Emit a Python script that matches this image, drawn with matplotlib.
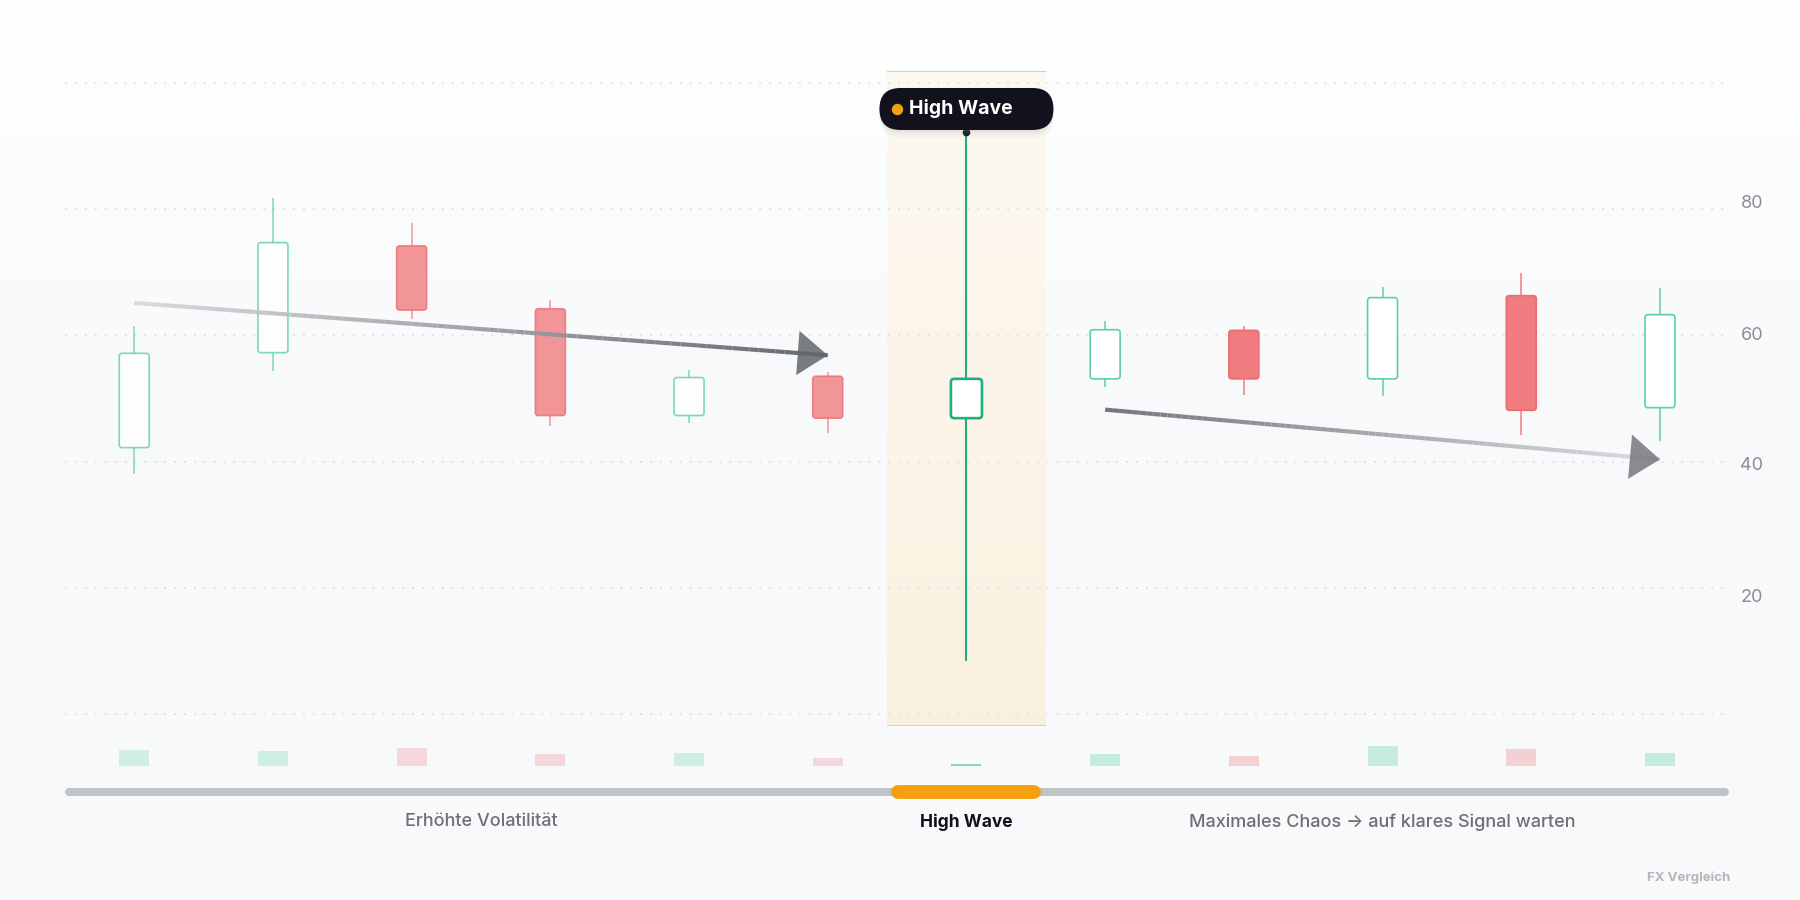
import numpy as np
import matplotlib
matplotlib.use('Agg')
import matplotlib.pyplot as plt
from matplotlib.patches import FancyBboxPatch, FancyArrowPatch
from matplotlib.collections import LineCollection
from matplotlib.colors import to_rgb

plt.rcParams['font.family'] = ['Inter', 'DejaVu Sans']

# candles (index 6 is the high wave)
opens = [42.5, 57.0, 73.3, 63.7, 47.4, 53.4, 47.0, 53.0, 60.4, 53.0, 65.7, 48.6]
highs = [61.0, 80.6, 76.8, 65.1, 54.4, 54.0, 90.7, 61.8, 61.0, 67.0, 69.1, 66.9]
lows = [38.5, 54.2, 62.1, 45.8, 46.3, 44.8, 9.9, 51.8, 50.5, 50.4, 44.5, 43.5]
closes = [56.9, 73.8, 63.5, 47.4, 53.2, 47.0, 53.0, 60.5, 53.0, 65.4, 48.2, 62.8]
volumes = [16, 15, 18, 12, 13, 8, 2, 12, 10, 20, 17, 13]
y_ticks = [20, 40, 60, 80]
hw_idx = 6
pattern_label = "High Wave"
phase_labels = ["Erhöhte Volatilität", "High Wave", "Maximales Chaos → auf klares Signal warten"]
phase_pos = [2.5, 6, 9]
trend_arrows = [((0.0, 64.6), (5.0, 56.6)), ((7.0, 48.3), (11.0, 40.7))]
footer = "FX Vergleich"

GREEN = '#5ECFA6'
RED = '#F07C80'
HW_GREEN = '#1FAE80'
W, H = 1800, 900


def px_rect(x0, y0, x1, y1):
    # pixel box (top-left origin) -> figure fraction rect
    return [x0 / W, 1 - y1 / H, (x1 - x0) / W, (y1 - y0) / H]


def blend(c0, c1, t):
    a, b = np.array(to_rgb(c0)), np.array(to_rgb(c1))
    return tuple(a + (b - a) * t)


fig = plt.figure(figsize=(18, 9), dpi=100)

# background gradient
ax_bg = fig.add_axes([0, 0, 1, 1], zorder=0)
grad = np.linspace(0, 1, 256)[:, None]
top_c, bot_c = np.array([1.0, 1.0, 1.0]), np.array(to_rgb('#F7F9FB'))
bg = top_c + (bot_c - top_c) * np.clip(grad * 2.2, 0, 1)[..., None]
ax_bg.imshow(np.repeat(bg, 2, axis=1), aspect='auto', extent=[0, 1, 0, 1])
ax_bg.axis('off')

# main price axes
ax = fig.add_axes(px_rect(64.9, 71, 1729.3, 726), zorder=2)
ax.set_facecolor('none')
ax.set_xlim(-0.5, 11.5)
ax.set_ylim(0, 100)
for s in ax.spines.values():
    s.set_visible(False)
ax.set_xticks([])
ax.yaxis.tick_right()
ax.set_yticks(y_ticks)
ax.set_yticklabels([str(t) for t in y_ticks])
ax.tick_params(axis='y', length=0, pad=8, labelsize=13, labelcolor='#8C8D93')

# aspect factor so rounded corners stay round
bb = ax.get_position()
asp = (100 / (bb.height * H)) / (12 / (bb.width * W))

# highlight band behind the high wave
band_hw = 0.57
band = np.linspace(0, 1, 128)[:, None]
b_top, b_bot = np.array(to_rgb('#FDF9F1')), np.array(to_rgb('#FAF0DF'))
band_img = b_top + (b_bot - b_top) * band[..., None]
ax.imshow(np.repeat(band_img, 2, axis=1), aspect='auto', zorder=1,
          extent=[hw_idx - band_hw, hw_idx + band_hw, 0, 100])
ax.hlines([0, 100], hw_idx - band_hw, hw_idx + band_hw, color='#F0CB8C', lw=1.5, zorder=2)
ax.set_xlim(-0.5, 11.5)
ax.set_ylim(0, 100)

# dotted guide lines
for gy in np.linspace(98.1, 1.9, 6):
    ax.axhline(gy, color='#E1E4E8', lw=1.4, ls=(0, (1, 4.1)), zorder=1.5)

# candles
bw = 0.216
for i, (o, h, l, c) in enumerate(zip(opens, highs, lows, closes)):
    up = c >= o
    lo_b, hi_b = min(o, c), max(o, c)
    if i == hw_idx:
        ax.vlines(i, l, lo_b, color=HW_GREEN, lw=1.5, zorder=3)
        ax.vlines(i, hi_b, h, color=HW_GREEN, lw=1.5, zorder=3)
        ax.add_patch(FancyBboxPatch((i - 0.112, lo_b), 0.224, hi_b - lo_b,
                                    boxstyle="round,pad=0,rounding_size=0.024",
                                    mutation_aspect=asp, fc='white', ec=HW_GREEN,
                                    lw=1.9, zorder=4))
        ax.plot(i, h, 'o', ms=4.5, color='#15151F', zorder=5)
        continue
    alpha = 0.8 if i < hw_idx else 1.0
    col = GREEN if up else RED
    ax.vlines(i, l, lo_b, color=col, lw=1.1, alpha=alpha, zorder=3)
    ax.vlines(i, hi_b, h, color=col, lw=1.1, alpha=alpha, zorder=3)
    ax.add_patch(FancyBboxPatch((i - bw / 2, lo_b), bw, hi_b - lo_b,
                                boxstyle="round,pad=0,rounding_size=0.02",
                                mutation_aspect=asp, fc='white' if up else col,
                                ec=col if up else '#EB6D72', lw=1.2,
                                alpha=alpha, zorder=4))


# trend arrows with a fading shaft
def grad_arrow(p0, p1, c0, c1, head_col):
    n = 80
    xs = np.linspace(p0[0], p1[0], n + 1)
    ys = np.linspace(p0[1], p1[1], n + 1)
    segs = np.stack([np.column_stack([xs[:-1], ys[:-1]]),
                     np.column_stack([xs[1:], ys[1:]])], axis=1)
    cols = [blend(c0, c1, t) for t in np.linspace(0, 1, n)]
    ax.add_collection(LineCollection(segs, colors=cols, linewidths=3,
                                     capstyle='butt', zorder=6))
    back = (p1[0] - 0.15 * (p1[0] - p0[0]), p1[1] - 0.15 * (p1[1] - p0[1]))
    ax.add_patch(FancyArrowPatch(back, p1, arrowstyle='-|>,head_length=21.6,head_width=16',
                                 mutation_scale=1, color=head_col, alpha=0.85, lw=0,
                                 shrinkA=0, shrinkB=0, zorder=7))


grad_arrow(*trend_arrows[0], '#D8DADD', '#66696E', '#63666B')
grad_arrow(*trend_arrows[1], '#74767B', '#DADCDF', '#76787D')

# pattern pill label
pill_w = 174 / (bb.width * W) * 12
pill_h = 42 / (bb.height * H) * 100
pill_y = 94.2
rs = pill_w * 21 / 174
for k, a in [(1.2, 0.06), (0.7, 0.08), (0.3, 0.1)]:
    ax.add_patch(FancyBboxPatch((hw_idx - pill_w / 2, pill_y - pill_h / 2 - k), pill_w, pill_h,
                                boxstyle=f"round,pad=0,rounding_size={rs}",
                                mutation_aspect=asp, fc='#8F98A8', ec='none', alpha=a,
                                zorder=9))
ax.add_patch(FancyBboxPatch((hw_idx - pill_w / 2, pill_y - pill_h / 2), pill_w, pill_h,
                            boxstyle=f"round,pad=0,rounding_size={rs}",
                            mutation_aspect=asp, fc='#12121C', ec='none', zorder=10))
ax.plot(hw_idx - 0.50, pill_y, 'o', ms=7.2, color='#F5A00F', zorder=11)
ax.text(hw_idx - 0.415, pill_y, pattern_label, color='white', fontsize=14,
        fontweight='bold', ha='left', va='center', zorder=11)

# volume strip
ax_v = fig.add_axes(px_rect(64.9, 736, 1729.3, 766), zorder=2)
ax_v.set_facecolor('none')
ax_v.set_xlim(-0.5, 11.5)
ax_v.set_ylim(0, 30)
ax_v.axis('off')
for i, v in enumerate(volumes):
    up = closes[i] >= opens[i]
    if i == hw_idx:
        col, a = HW_GREEN, 0.5
    else:
        col = GREEN if up else RED
        a = 0.26 if i < hw_idx else 0.32
    ax_v.bar(i, v, width=bw, color=col, alpha=a, lw=0)

# phase timeline
ax_t = fig.add_axes(px_rect(64.9, 770, 1729.3, 890), zorder=2)
ax_t.set_facecolor('none')
ax_t.set_xlim(-0.5, 11.5)
ax_t.set_ylim(120, 0)
ax_t.axis('off')
ax_t.plot([-0.47, 11.47], [22, 22], color='#C1C4C7', lw=5.8, solid_capstyle='round')
ax_t.plot([hw_idx - 0.49, hw_idx + 0.49], [22, 22], color='#F5A00F', lw=10,
          solid_capstyle='round')
for lab, xp in zip(phase_labels, phase_pos):
    hw = lab == pattern_label
    ax_t.text(xp, 52, lab, ha='center', va='center',
              fontsize=12.5 if hw else 13,
              color='#111218' if hw else '#6F7075',
              fontweight='bold' if hw else 'medium')

fig.text(1730 / W, 1 - 878 / H, footer, ha='right', va='center', fontsize=9.5,
         color='#B4B6BA', fontweight='bold')

fig.savefig('out.png', dpi=100)
